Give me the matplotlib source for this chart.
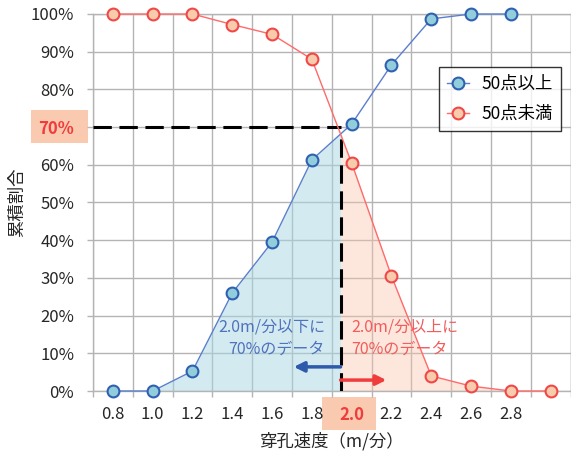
import numpy as np
import matplotlib.pyplot as plt
from matplotlib.patches import Rectangle

plt.rcParams['font.family'] = ['Noto Sans CJK JP', 'DejaVu Sans']

# 穿孔速度のカテゴリ (m/分) と累積割合 (%)
speed = [0.8, 1.0, 1.2, 1.4, 1.6, 1.8, 2.0, 2.2, 2.4, 2.6, 2.8, 3.0]
tick_labels = ['0.8', '1.0', '1.2', '1.4', '1.6', '1.8', '2.0', '2.2', '2.4', '2.6', '2.8', '']
above = [0, 0, 5.3, 26.0, 39.5, 61.3, 70.8, 86.5, 98.7, 100, 100]           # 50点以上
below = [100, 100, 100, 97.2, 94.6, 88.0, 60.5, 30.5, 4.0, 1.3, 0, 0]        # 50点未満
threshold = 70

# crossing point of the two curves
n = len(above)
diff = np.array(above) - np.array(below[:n])
i = np.where(np.diff(np.sign(diff)) != 0)[0][0]
frac = -diff[i] / (diff[i + 1] - diff[i])
xc = speed[i] + frac * (speed[i + 1] - speed[i])
yc = above[i] + frac * (above[i + 1] - above[i])

W, H = 571, 455
fig = plt.figure(figsize=(W / 100, H / 100), dpi=100)
ax = fig.add_axes([93 / W, 64 / H, 477.5 / W, 377 / H])
ax.set_xlim(0.7, 3.1)
ax.set_ylim(0, 100)

grid_c = '#b4b4b4'
txt_c = '#262626'
bounds = np.arange(0.7, 3.15, 0.2)
ax.set_xticks(bounds)
ax.set_xticklabels([])
ax.set_xticks(speed, minor=True)
ax.set_xticklabels(tick_labels, minor=True)
ax.tick_params(axis='x', which='major', length=4, color=grid_c, width=1)
ax.tick_params(axis='x', which='minor', length=0, pad=11, labelsize=12, labelcolor=txt_c)

yt = np.arange(0, 101, 10)
ax.set_yticks(yt)
ax.set_yticklabels([f'{v}%' for v in yt])
ax.tick_params(axis='y', length=4.5, color=grid_c, width=1, pad=9, labelsize=12, labelcolor=txt_c)
ax.grid(True, which='major', color=grid_c, lw=1)
ax.set_axisbelow(True)
for s in ax.spines.values():
    s.set_color(grid_c)
    s.set_linewidth(1)

# shaded areas
xb = speed[1:i + 1] + [xc]
yb = above[1:i + 1] + [yc]
ax.fill_between(xb, yb, 0, color='#a8d8e2', alpha=0.5, lw=0, zorder=2)
xr = [xc] + speed[i + 1:]
yr = [yc] + below[i + 1:]
ax.fill_between(xr, yr, 0, color='#fbc3a8', alpha=0.4, lw=0, zorder=2)

# dashed guide lines
ax.plot([0.7, xc], [threshold, threshold], color='black', lw=2.2, dashes=(6, 2.5), zorder=4)
ax.plot([xc, xc], [0, yc], color='black', lw=2.2, dashes=(6, 2.5), zorder=4)

ax.plot(speed[:n], above, color='#5a7fcc', lw=1, marker='o', ms=8.5, mfc='#92cddc',
        mec='#3060b0', mew=1.5, label='50点以上', zorder=5, clip_on=False)
ax.plot(speed, below, color='#ff6a6a', lw=1, marker='o', ms=8.5, mfc='#f8cbad',
        mec='#f04848', mew=1.5, label='50点未満', zorder=5, clip_on=False)

# arrows and notes
ax.annotate('', xy=(xc - 0.235, 6.4), xytext=(xc, 6.4),
            arrowprops=dict(arrowstyle='-|>', color='#2e5aac', lw=2.5, mutation_scale=15,
                            shrinkA=0, shrinkB=0), zorder=6)
ax.annotate('', xy=(xc + 0.23, 2.9), xytext=(xc, 2.9),
            arrowprops=dict(arrowstyle='-|>', color='#f03c3c', lw=2.5, mutation_scale=15,
                            shrinkA=0, shrinkB=0), zorder=6)
ax.text(1.866, 14, '2.0m/分以下に\n70%のデータ', color='#4f71be', fontsize=11.5,
        ha='right', va='center', multialignment='right', linespacing=1.35, zorder=6)
ax.text(2.0, 14, '2.0m/分以上に\n70%のデータ', color='#f25c5c', fontsize=11.5,
        ha='left', va='center', multialignment='left', linespacing=1.35, zorder=6)

# highlighted tick labels
lab70 = ax.get_yticklabels()[list(yt).index(threshold)]
lab70.set_color('#f03c3c')
lab70.set_fontweight('bold')
lab20 = ax.xaxis.get_minorticklabels()[tick_labels.index('2.0')]
lab20.set_color('#f03c3c')
lab20.set_fontweight('bold')
fig.add_artist(Rectangle((31 / W, (H - 143) / H), 57 / W, 33 / H, transform=fig.transFigure,
                         facecolor='#f9c9b0', edgecolor='none', zorder=-1))
fig.add_artist(Rectangle((322 / W, (H - 430) / H), 54 / W, 33 / H, transform=fig.transFigure,
                         facecolor='#f9c9b0', edgecolor='none', zorder=-1))

fig.text(17 / W, 1 - 202 / H, '累積割合', fontsize=12.5, rotation=90, ha='center', va='center',
         color=txt_c)
ax.set_xlabel('穿孔速度（m/分）', fontsize=12.5, color=txt_c)
ax.xaxis.set_label_coords(0.5, -0.108)

leg = ax.legend(loc='upper left', bbox_to_anchor=(439 / W, 1 - 67 / H), bbox_transform=fig.transFigure,
                fontsize=12.5, frameon=True, fancybox=False, edgecolor='black', borderaxespad=0,
                handlelength=1.25, handletextpad=0.75, labelspacing=0.7, borderpad=0.45)
leg.get_frame().set_linewidth(1)

fig.savefig('out.png', dpi=100)
